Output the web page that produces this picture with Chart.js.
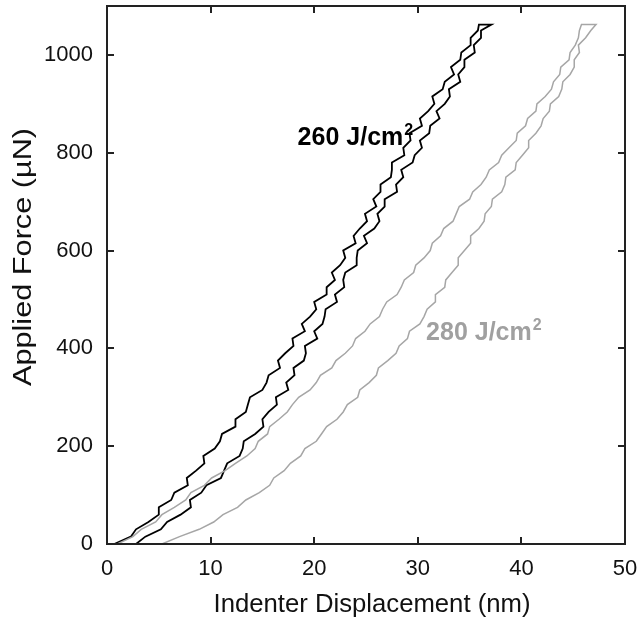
<!DOCTYPE html>
<html>
<head>
<meta charset="utf-8">
<script src="https://cdn.jsdelivr.net/npm/chart.js@4/dist/chart.umd.min.js"></script>
<style>
html,body{margin:0;padding:0;background:#fff;}
#wrap{width:639px;height:624px;}
</style>
</head>
<body>
<div id="wrap"><canvas id="c" width="639" height="624"></canvas></div>
<script>
// Applied force levels (µN) shared by loading and unloading branches
const forceLevels = [0,15,30,45,60,75,90,105,120,135,150,165,180,195,210,225,240,255,270,285,300,315,330,345,360,375,390,405,420,435,450,465,480,495,510,525,540,555,570,585,600,615,630,645,660,675,690,705,720,735,750,765,780,795,810,825,840,855,870,885,900,915,930,945,960,975,990,1005,1020,1035,1050,1062];

// 260 J/cm² : displacement (nm) on loading and unloading
const disp260Load = [0.7,2.3,2.8,4.0,5.0,5.0,6.2,6.5,7.8,7.7,8.6,9.4,9.3,10.4,10.9,11.1,12.4,12.4,13.4,13.6,13.8,15.0,15.4,15.6,16.7,16.5,17.2,18.0,17.9,19.1,18.8,19.6,20.2,20.0,21.2,21.2,22.0,21.7,22.5,23.0,22.8,24.0,23.8,24.4,25.1,24.9,26.0,25.7,26.4,26.4,27.4,27.5,27.5,28.7,28.6,29.3,29.2,30.4,30.2,31.0,31.6,31.4,32.4,32.6,33.5,33.2,34.1,34.2,35.1,35.1,35.8,35.9];
const disp260Unload = [2.8,3.7,5.2,5.8,7.1,8.1,8.0,9.1,9.6,11.0,11.3,11.6,12.8,13.1,13.2,14.3,15.1,15.0,15.6,16.4,16.3,17.5,17.3,18.1,18.0,19.0,19.2,19.1,20.3,20.0,20.8,21.0,21.1,22.2,22.0,22.9,22.8,23.0,24.1,24.1,24.2,25.1,24.8,25.8,26.3,26.1,26.8,26.8,28.0,27.9,28.6,28.4,29.5,29.7,30.4,30.2,31.1,31.2,32.1,31.8,32.6,33.1,33.0,34.1,33.9,34.5,34.5,35.5,35.4,36.1,36.1,37.1];

// 280 J/cm² : displacement (nm) on loading and unloading
const disp280Load = [1.0,2.5,3.3,4.7,5.3,6.5,7.6,8.1,9.4,10.1,11.4,12.4,13.5,14.3,14.6,15.5,15.7,16.6,17.4,17.9,18.5,19.6,20.2,20.6,21.7,22.1,23.0,23.7,24.0,24.9,25.4,26.3,26.6,27.0,28.0,28.4,28.7,29.6,29.8,30.6,31.2,31.4,32.2,32.5,33.4,33.7,34.0,35.0,35.3,36.1,36.6,36.9,37.8,38.1,38.8,39.5,39.6,40.4,40.6,41.4,41.5,42.3,42.9,43.1,43.7,43.8,44.6,44.7,45.2,45.5,45.6,45.8];
const disp280Unload = [5.3,7.0,8.9,10.3,11.2,12.6,13.4,14.7,15.7,16.1,17.1,17.7,18.7,19.1,20.2,20.7,21.2,22.2,22.8,23.2,24.2,24.4,25.3,26.0,26.2,27.1,27.9,28.2,29.0,29.2,30.2,30.6,30.9,31.7,31.7,32.6,32.7,33.3,33.9,33.9,34.5,35.1,35.1,35.9,36.4,36.5,37.1,37.2,38.1,38.4,38.5,39.4,39.5,40.1,40.7,40.7,41.4,41.9,42.1,42.7,42.8,43.6,43.9,44.0,44.7,45.1,45.1,45.6,45.5,46.2,46.7,47.2];

// Axis ticks and labels
const xTickValues = [0,10,20,30,40,50];
const yTickValues = [0,200,400,600,800,1000];
const seriesLabels = ['260 J/cm', '280 J/cm'];
const labelSuperscript = '2';
const xTitle = 'Indenter Displacement (nm)';
const yTitle = 'Applied Force (\u00B5N)';

function loop(load, unload){
  const up = forceLevels.map((f,i)=>({x:load[i], y:f}));
  const down = forceLevels.map((f,i)=>({x:unload[i], y:f})).reverse();
  return up.concat(down);
}

const FONT = '"Liberation Sans", Arial, Helvetica, sans-serif';
const GRAY = '#a6a6a6';

// annotation placement (data coordinates)
const annotations = [
  {text: seriesLabels[0], x: 18.4, y: 816, color: '#000'},
  {text: seriesLabels[1], x: 30.8, y: 417, color: '#a0a0a0'}
];

const framePlugin = {
  id: 'frame',
  afterDatasetsDraw(chart){
    const {ctx, chartArea:a, scales:{x, y}} = chart;
    ctx.save();
    annotations.forEach(an=>{
      const px = x.getPixelForValue(an.x), py = y.getPixelForValue(an.y);
      ctx.fillStyle = an.color;
      ctx.font = 'bold 25px ' + FONT;
      ctx.textBaseline = 'alphabetic';
      ctx.textAlign = 'left';
      ctx.fillText(an.text, px, py);
      const w = ctx.measureText(an.text).width;
      ctx.font = 'bold 16px ' + FONT;
      ctx.fillText(labelSuperscript, px + w + 1, py - 10);
    });
    ctx.strokeStyle = '#222';
    ctx.lineWidth = 2;
    ctx.strokeRect(a.left, a.top, a.right - a.left, a.bottom - a.top);
    const tl = 7;
    ctx.beginPath();
    xTickValues.forEach(v=>{
      const px = Math.round(x.getPixelForValue(v));
      ctx.moveTo(px, a.bottom); ctx.lineTo(px, a.bottom - tl);
      ctx.moveTo(px, a.top); ctx.lineTo(px, a.top + tl);
    });
    yTickValues.forEach(v=>{
      const py = Math.round(y.getPixelForValue(v));
      ctx.moveTo(a.left, py); ctx.lineTo(a.left + tl, py);
      ctx.moveTo(a.right, py); ctx.lineTo(a.right - tl, py);
    });
    ctx.stroke();
    // x axis title
    ctx.fillStyle = '#111';
    ctx.font = '25.7px ' + FONT;
    ctx.textAlign = 'center';
    ctx.textBaseline = 'middle';
    ctx.fillText(xTitle, (a.left + a.right) / 2 + 6, 605);
    // y axis title
    ctx.font = '26px ' + FONT;
    ctx.translate(24, 257);
    ctx.rotate(-Math.PI / 2);
    ctx.scale(1.18, 1);
    ctx.fillText(yTitle, 0, 0);
    ctx.restore();
  }
};

function noPad(s){ s.paddingTop = 0; s.paddingBottom = 0; s.paddingLeft = 0; s.paddingRight = 0; }

new Chart(document.getElementById('c'), {
  type: 'scatter',
  data: {
    datasets: [
      {label: seriesLabels[1], data: loop(disp280Load, disp280Unload), showLine: true, borderColor: GRAY, borderWidth: 1.5, pointRadius: 0, tension: 0, fill: false},
      {label: seriesLabels[0], data: loop(disp260Load, disp260Unload), showLine: true, borderColor: '#000', borderWidth: 1.8, pointRadius: 0, tension: 0, fill: false}
    ]
  },
  options: {
    responsive: false,
    animation: false,
    events: [],
    layout: {padding: {top: 6, right: 14, left: 0, bottom: 0}},
    plugins: {legend: {display: false}, tooltip: {enabled: false}},
    scales: {
      x: {
        type: 'linear', min: 0, max: 50,
        afterBuildTicks(s){ s.ticks = xTickValues.map(v=>({value:v})); },
        afterFit(s){ s.height = 80; noPad(s); },
        grid: {display: false, drawTicks: false},
        border: {display: false},
        ticks: {color: '#111', font: {family: FONT, size: 22}, padding: 12, maxRotation: 0, autoSkip: false, callback: v => String(v)}
      },
      y: {
        type: 'linear', min: 0, max: 1100,
        afterBuildTicks(s){ s.ticks = yTickValues.map(v=>({value:v})); },
        afterFit(s){ s.width = 107; noPad(s); },
        grid: {display: false, drawTicks: false},
        border: {display: false},
        ticks: {color: '#111', font: {family: FONT, size: 22}, padding: 14, autoSkip: false, callback: v => String(v)}
      }
    }
  },
  plugins: [framePlugin]
});
</script>
</body>
</html>
